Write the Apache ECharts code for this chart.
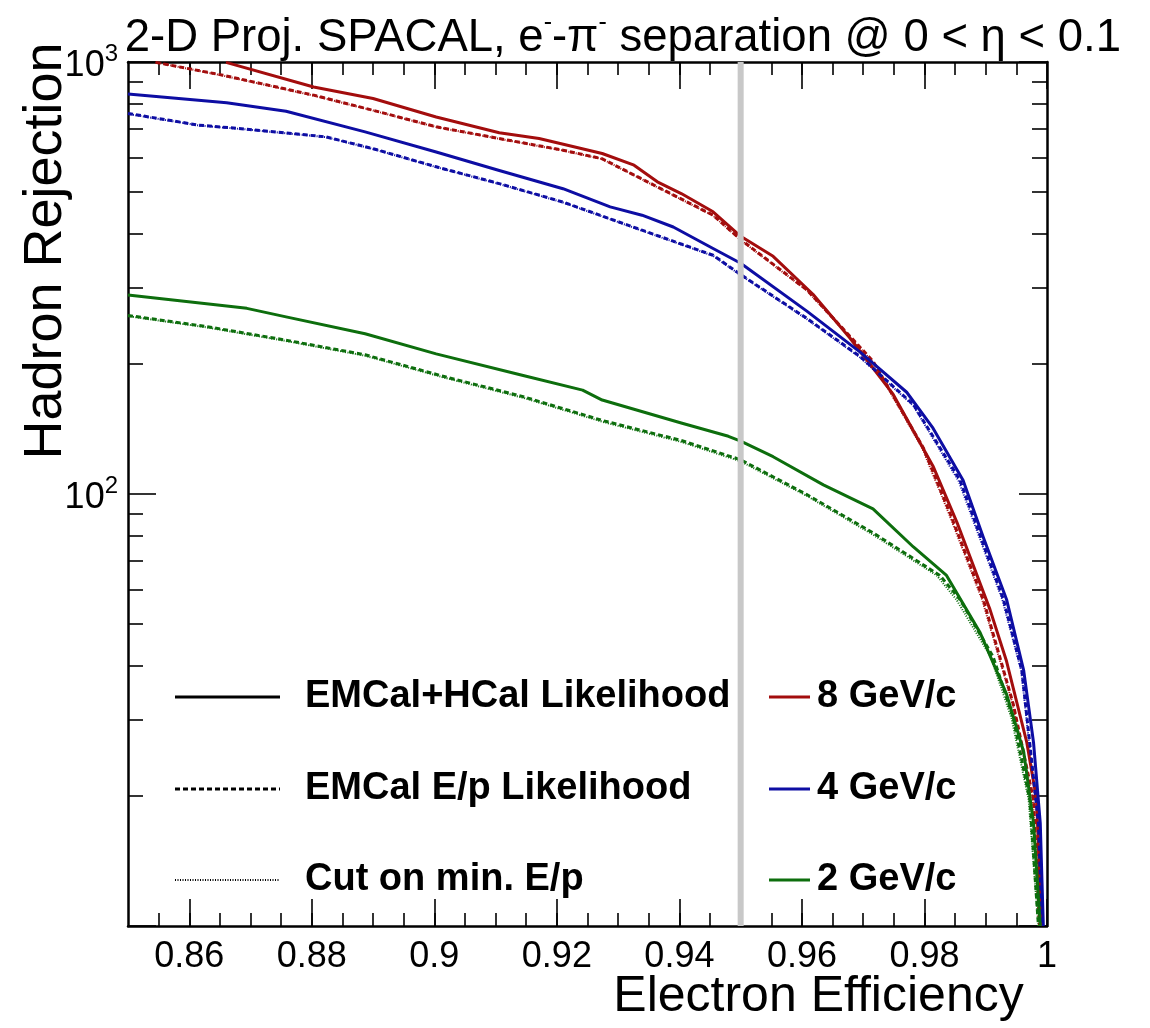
<!DOCTYPE html>
<html>
<head>
<meta charset="utf-8">
<script src="https://cdn.jsdelivr.net/npm/echarts@6.0.0/dist/echarts.min.js"></script>
<style>
html,body{margin:0;padding:0;background:#fff;}
#chart{width:1150px;height:1028px;}
</style>
</head>
<body>
<div id="chart"></div>
<script>
// ---------------- data ----------------
// 8 GeV/c
const eff8Comb = [0.8660, 0.8803, 0.8900, 0.9003, 0.9106, 0.9171, 0.9274, 0.9326, 0.9364, 0.9403, 0.9455, 0.9500, 0.9553, 0.9618, 0.9678, 0.9749, 0.9814, 0.9853, 0.9907, 0.9934, 0.9967, 0.9983, 0.9991];
const rej8Comb = [998, 875, 823, 746, 686, 665, 614, 577, 528, 496, 450, 395, 355, 290, 230, 170, 116, 86, 54, 41, 26.6, 19.6, 10];
const eff8EP = [0.8545, 0.8655, 0.8803, 0.8900, 0.9003, 0.9106, 0.9210, 0.9274, 0.9364, 0.9455, 0.9500, 0.9608, 0.9716, 0.9798, 0.9842, 0.9896, 0.9945, 0.9978, 0.9988];
const rej8EP = [998, 932, 838, 773, 708, 665, 625, 597, 514, 442, 388, 297, 203, 128, 90, 57, 32.6, 19.6, 10];
const eff8Cut = [0.8545, 0.8655, 0.8803, 0.8900, 0.9003, 0.9106, 0.9210, 0.9274, 0.9364, 0.9455, 0.9500, 0.9608, 0.9716, 0.9796, 0.9840, 0.9894, 0.9944, 0.9977, 0.9988];
const rej8Cut = [998, 930, 836, 772, 707, 664, 624, 596, 513, 441, 387, 296, 202, 128, 90, 57, 32.6, 19.6, 10];
// 4 GeV/c
const eff4Comb = [0.8500, 0.8661, 0.8758, 0.8887, 0.9003, 0.9106, 0.9210, 0.9287, 0.9339, 0.9390, 0.9455, 0.9500, 0.9608, 0.9695, 0.9771, 0.9814, 0.9863, 0.9896, 0.9934, 0.9962, 0.9978, 0.9989, 0.9994];
const rej4Comb = [843, 805, 769, 689, 619, 561, 509, 462, 442, 415, 370, 342, 265, 213, 172, 142, 107.6, 79.4, 57, 39, 26.6, 17.3, 10];
const eff4EP = [0.8500, 0.8616, 0.8694, 0.8823, 0.8900, 0.9003, 0.9106, 0.9210, 0.9339, 0.9455, 0.9500, 0.9608, 0.9695, 0.9782, 0.9858, 0.9929, 0.9959, 0.9986, 0.9992];
const rej4EP = [760, 714, 699, 671, 630, 572, 523, 474, 408, 357, 322, 255, 208, 161, 107.6, 57, 39, 17.3, 10];
const eff4Cut = [0.8500, 0.8616, 0.8694, 0.8823, 0.8900, 0.9003, 0.9106, 0.9210, 0.9339, 0.9455, 0.9500, 0.9608, 0.9695, 0.9782, 0.9856, 0.9927, 0.9958, 0.9985, 0.9992];
const rej4Cut = [758, 713, 698, 670, 629, 571, 522, 473, 407, 356, 321, 254, 207, 160, 107, 57, 39, 17.3, 10];
// 2 GeV/c
const eff2Comb = [0.8500, 0.8694, 0.8758, 0.8887, 0.9003, 0.9145, 0.9242, 0.9274, 0.9403, 0.9480, 0.9500, 0.9553, 0.9635, 0.9716, 0.9782, 0.9836, 0.9891, 0.9934, 0.9962, 0.9978, 0.9989];
const rej2Comb = [289, 269, 257, 235, 211, 188, 174, 165, 146, 136, 132.5, 122, 105, 92.4, 75.4, 64.8, 47.7, 34.4, 25.3, 17.3, 10];
const eff2EP = [0.8500, 0.8629, 0.8758, 0.8887, 0.9016, 0.9145, 0.9274, 0.9403, 0.9500, 0.9608, 0.9716, 0.9825, 0.9858, 0.9912, 0.9945, 0.9972, 0.9986];
const rej2EP = [259, 244, 227, 210, 187, 168, 148, 133, 120, 99.7, 81.3, 64.8, 57, 42, 30.3, 19.6, 10];
const eff2Cut = [0.8500, 0.8629, 0.8758, 0.8887, 0.9016, 0.9145, 0.9274, 0.9403, 0.9500, 0.9608, 0.9716, 0.9820, 0.9852, 0.9908, 0.9942, 0.9970, 0.9986];
const rej2Cut = [258, 243, 226, 209, 186, 167, 147, 132, 119, 99, 80.5, 64.8, 57, 42, 30.3, 19.6, 10];

// reference working point
const cutEfficiency = 0.95;
const cutLineRange = [10, 1000];

// axis ticks / labels
const xRange = [0.85, 1.0];
const yRange = [10, 1000];
const xMajorTicks = [0.86, 0.88, 0.90, 0.92, 0.94, 0.96, 0.98, 1.00];
const xMinorTicks = [0.855, 0.86, 0.865, 0.87, 0.875, 0.88, 0.885, 0.89, 0.895, 0.90, 0.905, 0.91, 0.915, 0.92, 0.925, 0.93, 0.935, 0.94, 0.945, 0.95, 0.955, 0.96, 0.965, 0.97, 0.975, 0.98, 0.985, 0.99, 0.995];
const yTickExponent = {100: '2', 1000: '3'};
const yMinorTicks = [20, 30, 40, 50, 60, 70, 80, 90, 200, 300, 400, 500, 600, 700, 800, 900];

const momenta = ['8 GeV/c', '4 GeV/c', '2 GeV/c'];
const methods = ['EMCal+HCal Likelihood', 'EMCal E/p Likelihood', 'Cut on min. E/p'];
const colors = {'8 GeV/c': '#a30d0d', '4 GeV/c': '#0d0da3', '2 GeV/c': '#0d6e0d'};

// ---------------- chart ----------------
const FONT = 'Liberation Sans, Arial, Helvetica, sans-serif';
const zip = (xs, ys) => xs.map((x, i) => [x, ys[i]]);
const methodStyle = [
  {type: 'solid', width: 3},
  {type: [5, 3], width: 3},
  {type: [1, 1.5], width: 2}
];
const curveSets = [
  ['8 GeV/c', 0, eff8Comb, rej8Comb], ['8 GeV/c', 1, eff8EP, rej8EP], ['8 GeV/c', 2, eff8Cut, rej8Cut],
  ['4 GeV/c', 0, eff4Comb, rej4Comb], ['4 GeV/c', 1, eff4EP, rej4EP], ['4 GeV/c', 2, eff4Cut, rej4Cut],
  ['2 GeV/c', 0, eff2Comb, rej2Comb], ['2 GeV/c', 1, eff2EP, rej2EP], ['2 GeV/c', 2, eff2Cut, rej2Cut]
];

const series = curveSets.map(([mom, m, xs, ys]) => ({
  type: 'line',
  name: mom + ' ' + methods[m],
  xAxisIndex: 0, yAxisIndex: 0,
  showSymbol: false, symbol: 'none',
  clip: true,
  z: 3 - (m === 2 ? 1 : 0),
  lineStyle: {color: colors[mom], width: methodStyle[m].width, type: methodStyle[m].type, join: 'round'},
  data: zip(xs, ys),
  animation: false
}));
series.push({
  type: 'line', name: 'cut',
  xAxisIndex: 0, yAxisIndex: 0,
  showSymbol: false, symbol: 'none', z: 5,
  lineStyle: {color: '#c8c8c8', width: 6},
  data: cutLineRange.map(v => [cutEfficiency, v]),
  animation: false
});

const axisLineStyle = {color: '#000', width: 2.5};
const tickLine = {color: '#000', width: 1.6};

function xAx(pos, major, withLabel) {
  return {
    type: 'value', min: xRange[0], max: xRange[1], position: pos, offset: 0,
    axisLine: {show: major, onZero: false, lineStyle: axisLineStyle},
    axisTick: {show: true, inside: true, length: major ? 27 : 13, customValues: major ? xMajorTicks : xMinorTicks, lineStyle: tickLine},
    axisLabel: withLabel ? {
      show: true, customValues: xMajorTicks, fontSize: 36, color: '#000', fontFamily: FONT, margin: 13,
      formatter: v => String(parseFloat(Number(v).toFixed(2)))
    } : {show: false},
    splitLine: {show: false}, minorTick: {show: false}, minorSplitLine: {show: false}
  };
}
function yLogAx(pos, withLabel) {
  return {
    type: 'log', logBase: 10, min: yRange[0], max: yRange[1], position: pos, offset: 0,
    axisLine: {show: true, onZero: false, lineStyle: axisLineStyle},
    axisTick: {show: true, inside: true, length: 28, lineStyle: tickLine},
    axisLabel: withLabel ? {
      show: true, color: '#000', fontFamily: FONT, margin: 10,
      showMinLabel: true, showMaxLabel: true,
      formatter: v => {
        const k = Math.round(v);
        return yTickExponent[k] ? '{b|10}{s|' + yTickExponent[k] + '}' : '';
      },
      rich: {
        b: {fontSize: 36, fontFamily: FONT, color: '#000', lineHeight: 44, verticalAlign: 'bottom'},
        s: {fontSize: 24, fontFamily: FONT, color: '#000', lineHeight: 44, verticalAlign: 'top', padding: [2, 0, 0, 0]}
      }
    } : {show: false},
    splitLine: {show: false}, minorTick: {show: false}
  };
}
function yMinorAx(pos) {
  return {
    type: 'value', min: Math.log10(yRange[0]), max: Math.log10(yRange[1]), position: pos, offset: 0,
    axisLine: {show: false, onZero: false},
    axisTick: {show: true, inside: true, length: 15, customValues: yMinorTicks.map(v => Math.log10(v)), lineStyle: tickLine},
    axisLabel: {show: false},
    splitLine: {show: false}
  };
}

const xAxes = [xAx('bottom', true, true), xAx('bottom', false, false), xAx('top', true, false), xAx('top', false, false)];
xAxes[0].name = 'Electron Efficiency';
xAxes[0].nameLocation = 'middle';
xAxes[0].nameGap = 46;
xAxes[0].nameMoveOverlap = false;
xAxes[0].nameTextStyle = {fontSize: 50, fontFamily: FONT, color: '#000', padding: [0, 0, 0, 462]};

const yAxes = [yLogAx('left', true), yMinorAx('left'), yLogAx('right', false), yMinorAx('right')];
yAxes[0].name = 'Hadron Rejection';
yAxes[0].nameLocation = 'middle';
yAxes[0].nameGap = 55;
yAxes[0].nameMoveOverlap = false;
yAxes[0].nameRotate = 90;
yAxes[0].nameTextStyle = {fontSize: 54, fontFamily: FONT, color: '#000', padding: [0, 0, 0, 486]};

// legend drawn as graphic keys
const legendRowsY = [697, 789, 880];
const graphic = [];
methods.forEach((m, i) => {
  graphic.push({type: 'line', z: 100, shape: {x1: 175, y1: legendRowsY[i], x2: 280, y2: legendRowsY[i]},
    style: {stroke: '#000', lineWidth: methodStyle[i].width, lineDash: methodStyle[i].type === 'solid' ? null : methodStyle[i].type}});
  graphic.push({type: 'text', z: 100, x: 305, y: legendRowsY[i],
    style: {text: m, font: 'bold 38px ' + FONT, fill: '#000', textVerticalAlign: 'middle', verticalAlign: 'middle'}});
});
momenta.forEach((p, i) => {
  graphic.push({type: 'line', z: 100, shape: {x1: 769, y1: legendRowsY[i], x2: 810, y2: legendRowsY[i]},
    style: {stroke: colors[p], lineWidth: 3}});
  graphic.push({type: 'text', z: 100, x: 817, y: legendRowsY[i],
    style: {text: p, font: 'bold 38px ' + FONT, fill: '#000', textVerticalAlign: 'middle', verticalAlign: 'middle'}});
});

const chart = echarts.init(document.getElementById('chart'), null, {renderer: 'canvas'});
chart.setOption({
  animation: false,
  backgroundColor: '#fff',
  title: {
    text: '{n|2-D Proj. SPACAL, e}{s|-}{n|-π}{s|-}{n| separation @ 0 < η < 0.1}',
    right: 24, top: 6,
    textStyle: {
      fontWeight: 'normal',
      rich: {
        n: {fontSize: 45.5, fontWeight: 'normal', fontFamily: FONT, color: '#000', lineHeight: 50, verticalAlign: 'bottom'},
        s: {fontSize: 25, fontWeight: 'normal', fontFamily: FONT, color: '#000', lineHeight: 50, verticalAlign: 'top'}
      }
    }
  },
  grid: {left: 128, right: 103, top: 62, bottom: 102, containLabel: false, outerBoundsMode: 'none'},
  xAxis: xAxes,
  yAxis: yAxes,
  series: series,
  graphic: graphic
});
</script>
</body>
</html>
